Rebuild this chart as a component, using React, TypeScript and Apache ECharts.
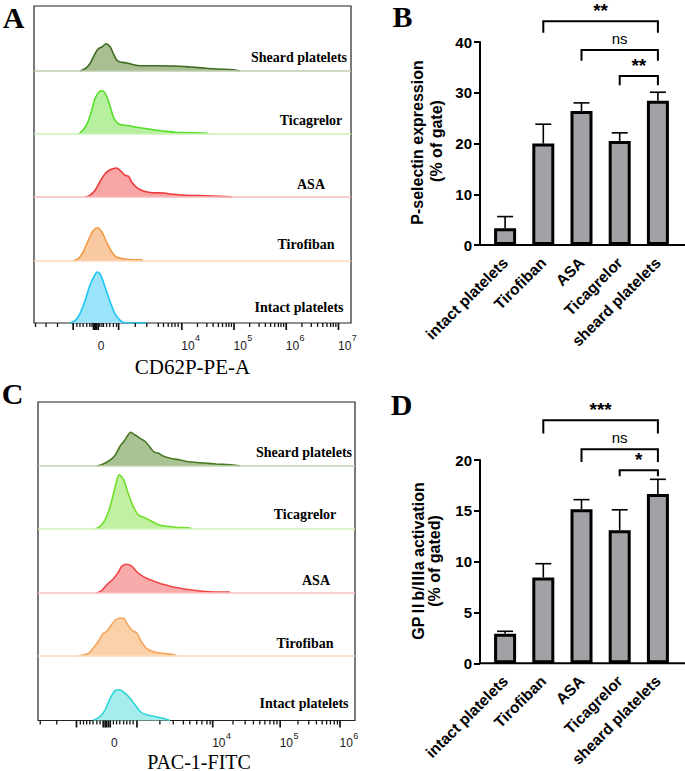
import React, { useEffect, useRef } from 'react';
import * as echarts from 'echarts';

const SANS = '"Liberation Sans", Arial, Helvetica, sans-serif';
const SANS_CJK = '"Liberation Sans", "Noto Sans CJK SC", Arial, sans-serif';
const SERIF = '"Liberation Serif", "Times New Roman", serif';

// ---------- Flow cytometry histograms (x in display decades, y in relative counts) ----------
const rowNames = ['Sheard platelets', 'Ticagrelor', 'ASA', 'Tirofiban', 'Intact platelets'];

// Panel A: CD62P-PE-A
const aSheardX = [2.05, 2.15, 2.24, 2.34, 2.40, 2.47, 2.55, 2.63, 2.69, 2.75, 2.82, 2.95, 3.07, 3.20, 3.46, 3.84, 4.16, 4.48, 4.67, 4.99, 5.12];
const aSheardY = [0, 2.3, 7.3, 17.3, 22.3, 24, 27.3, 24, 17.3, 11.3, 9, 8, 6.3, 5.3, 5.3, 5, 4, 2.7, 2, 1.3, 0];
const aTicagrelorX = [2.03, 2.11, 2.19, 2.26, 2.34, 2.42, 2.48, 2.55, 2.63, 2.70, 2.79, 2.88, 3.01, 3.14, 3.39, 3.65, 3.87, 4.10, 4.48, 4.51];
const aTicagrelorY = [0, 4, 10.7, 20.7, 35.7, 42.3, 43.3, 39, 27.3, 15.7, 10, 9, 8, 6.7, 4.7, 3, 1.7, 1.3, 0.7, 0];
const aAsaX = [2.15, 2.24, 2.34, 2.43, 2.53, 2.63, 2.75, 2.85, 2.91, 2.98, 3.04, 3.14, 3.26, 3.43, 3.65, 3.84, 4.10, 4.48, 4.73, 4.96];
const aAsaY = [0, 1.7, 6.7, 15, 23.3, 27.3, 29, 25, 21.7, 20.7, 15, 9.3, 6, 4.3, 4, 2.7, 1.7, 1.3, 0.7, 0];
const aTirofibanX = [1.92, 2.02, 2.11, 2.21, 2.31, 2.39, 2.47, 2.56, 2.66, 2.75, 2.88, 3.07, 3.23, 3.26];
const aTirofibanY = [0, 2.3, 9, 20.7, 30.7, 33.3, 29, 19, 9, 4, 2.3, 1.3, 1.3, 0];
const aIntactX = [1.86, 1.96, 2.05, 2.15, 2.24, 2.33, 2.38, 2.45, 2.53, 2.63, 2.72, 2.82, 2.91, 3.33];
const aIntactY = [0, 2.7, 9.3, 22.7, 37.7, 47.7, 51, 47.7, 36, 21, 9.3, 2.7, 0, 0];

const aMin = 1.17;
const aMax = 7.24;
const aMajorTicks = [1.92, 2.31, 2.33, 2.35, 2.37, 2.40, 2.79, 4, 5, 6, 7];
const aMinorTicks = [1.20, 1.40, 1.62, 1.99, 2.05, 2.11, 2.18, 2.24, 2.28, 2.43, 2.47, 2.50, 2.56, 2.62, 2.69, 2.75,
  3.11, 3.33, 3.55, 3.65, 3.74, 3.81, 3.87, 3.93,
  4.30, 4.48, 4.60, 4.70, 4.78, 4.85, 4.90, 4.95,
  5.30, 5.48, 5.60, 5.70, 5.78, 5.85, 5.90, 5.95,
  6.30, 6.48, 6.60, 6.70, 6.78, 6.85, 6.90, 6.95];
const aLabelPos = [2.40, 4, 5, 6, 7];
const aLabelExp = [null, 4, 5, 6, 7];

// Panel C: PAC-1-FITC
const cSheardX = [2.18, 2.28, 2.39, 2.47, 2.54, 2.62, 2.67, 2.71, 2.78, 2.86, 2.94, 3.01, 3.07, 3.15, 3.22, 3.33, 3.49, 3.62, 3.80, 4.06, 4.32, 4.43];
const cSheardY = [0, 2, 6, 11, 19.3, 26, 31, 33.7, 31, 27.7, 24.3, 19.3, 14.3, 12.7, 10, 7.7, 6, 4.3, 3.3, 2, 1, 0];
const cTicagrelorX = [2.15, 2.23, 2.31, 2.39, 2.47, 2.53, 2.60, 2.67, 2.75, 2.83, 2.94, 3.04, 3.15, 3.28, 3.41, 3.64, 3.67];
const cTicagrelorY = [0, 2.7, 9.3, 22.7, 42.7, 54.3, 49.3, 36, 22.7, 14.3, 11, 7.7, 4.3, 2.7, 1.7, 1, 0];
const cAsaX = [2.18, 2.26, 2.33, 2.44, 2.52, 2.57, 2.65, 2.73, 2.81, 2.88, 2.96, 3.07, 3.22, 3.38, 3.59, 3.80, 4.06, 4.26, 4.27];
const cAsaY = [0, 2.7, 7.7, 14.3, 21, 26.7, 28.7, 26.7, 21, 17.7, 14.7, 12, 8.7, 6, 3.7, 2, 1, 1, 0];
const cTirofibanX = [1.89, 2.05, 2.12, 2.20, 2.28, 2.33, 2.39, 2.47, 2.54, 2.60, 2.65, 2.73, 2.81, 2.88, 2.96, 3.07, 3.22, 3.41, 3.43];
const cTirofibanY = [0, 2.7, 7.7, 14.3, 22.7, 24.3, 29.3, 36, 37.7, 37.7, 32.7, 26, 22.7, 14.3, 7.7, 4.3, 2.7, 1, 0];
const cIntactX = [2.12, 2.23, 2.31, 2.39, 2.47, 2.54, 2.62, 2.70, 2.78, 2.86, 2.96, 3.09, 3.22, 3.33];
const cIntactY = [0, 4, 10.7, 22.3, 30, 30.7, 27.3, 22.3, 15.7, 9, 5.7, 4, 2.3, 0];

const cMin = 1.255;
const cMax = 6.236;
const cMajorTicks = [1.86, 2.28, 2.31, 2.33, 2.36, 2.39, 2.81, 4, 5.06, 6];
const cMinorTicks = [1.29, 1.55, 1.92, 1.97, 2.02, 2.07, 2.12, 2.18, 2.23, 2.44, 2.49, 2.54, 2.60, 2.65, 2.70, 2.75,
  3.17, 3.38, 3.54, 3.64, 3.75, 3.83, 3.91, 3.96,
  4.32, 4.51, 4.64, 4.74, 4.82, 4.90, 4.96, 5.01,
  5.34, 5.51, 5.63, 5.72, 5.79, 5.85, 5.91, 5.96];
const cLabelPos = [2.41, 4, 5.06, 6];
const cLabelExp = [null, 4, 5, 6];

const aLineColors = ['#3d6b1f', '#55de28', '#ee3a3a', '#f39a45', '#1cc6f2'];
const aFillColors = ['#a9bf92', '#b6f09e', '#f8a5a5', '#f9c9a1', '#9ae3f8'];
const aBaseColors = ['#bccdab', '#c8f3b6', '#f8baba', '#fbd8bb', '#9ae3f8'];
const cLineColors = ['#4a7a25', '#70df29', '#f04646', '#f5a65b', '#2cd5d5'];
const cFillColors = ['#a9c394', '#c1f0a2', '#f9abab', '#fad1a9', '#a5eded'];
const cBaseColors = ['#c0d3b0', '#cff4b8', '#f9c0c0', '#fbdcc0', '#a5eded'];

// ---------- Bar charts ----------
const categories = ['intact platelets', 'Tirofiban', 'ASA', 'Ticagrelor', 'sheard platelets'];
const bMean = [3.3, 20.0, 26.4, 20.5, 28.4];
const bErr = [2.3, 3.8, 1.6, 1.6, 1.7];
const dMean = [2.9, 8.45, 15.15, 13.1, 16.65];
const dErr = [0.25, 1.35, 0.95, 2.0, 1.45];

const bBrackets = [
  { from: 1, to: 4, y: 44.1, leg: 41.8, label: '**' },
  { from: 2, to: 4, y: 38.4, leg: 36.3, label: 'ns' },
  { from: 3, to: 4, y: 33.3, leg: 31.5, label: '**' },
];
const dBrackets = [
  { from: 1, to: 4, y: 23.9, leg: 22.6, label: '***' },
  { from: 2, to: 4, y: 21.05, leg: 19.8, label: 'ns' },
  { from: 3, to: 4, y: 19.0, leg: 18.4, label: '*' },
];

const ROW_H = 63;

function buildOption() {
  const grids: any[] = [];
  const xAxes: any[] = [];
  const yAxes: any[] = [];
  const series: any[] = [];

  const addHist = (
    left: number, width: number, top: number, bottom: number, baselines: number[],
    xs: number[][], ys: number[][], lines: string[], fills: string[], bases: string[],
    min: number, max: number, major: number[], minor: number[], labelPos: number[], labelExp: (number | null)[]
  ) => {
    baselines.forEach((b, i) => {
      const g = grids.length;
      grids.push({ left, width, top: b - ROW_H, height: ROW_H, outerBoundsMode: 'none' });
      xAxes.push({ type: 'value', gridIndex: g, min, max, show: false });
      yAxes.push({ type: 'value', gridIndex: g, min: 0, max: ROW_H, show: false });
      series.push({
        type: 'line',
        xAxisIndex: xAxes.length - 1,
        yAxisIndex: yAxes.length - 1,
        data: xs[i].map((x, k) => [x, ys[i][k]]),
        showSymbol: false,
        smooth: 0.3,
        lineStyle: { color: lines[i], width: 1.6 },
        areaStyle: { color: fills[i], opacity: 1 },
        markLine: i < baselines.length - 1 ? {
          silent: true,
          symbol: ['none', 'none'],
          label: { show: false },
          lineStyle: { color: bases[i], width: 1.5, type: 'solid' },
          data: [{ yAxis: 0 }],
        } : undefined,
        z: 3,
      });
    });
    const box = grids.length;
    grids.push({ left, width, top, height: bottom - top, show: true, borderColor: '#222', borderWidth: 1.2, backgroundColor: 'transparent', outerBoundsMode: 'none' });
    xAxes.push({ type: 'value', gridIndex: box, min, max, show: false });
    yAxes.push({ type: 'value', gridIndex: box, min: 0, max: 1, show: false });
    const xi = xAxes.length - 1;
    const yi = yAxes.length - 1;
    // tick marks (major = 1, minor = 0)
    series.push({
      type: 'custom', xAxisIndex: xi, yAxisIndex: yi, clip: false, silent: true, z: 5,
      data: [...major.map((v) => [v, 1]), ...minor.map((v) => [v, 0])],
      renderItem: (params: any, api: any) => {
        const p = api.coord([api.value(0), 0]);
        const isMajor = api.value(1) === 1;
        return {
          type: 'line',
          shape: { x1: p[0], y1: p[1], x2: p[0], y2: p[1] + (isMajor ? 7 : 4) },
          style: { stroke: '#111', lineWidth: isMajor ? 1.7 : 1.3 },
        };
      },
    });
    // tick labels: "0" and powers of ten
    series.push({
      type: 'custom', xAxisIndex: xi, yAxisIndex: yi, clip: false, silent: true, z: 5,
      data: labelPos.map((v, i) => [v, i]),
      renderItem: (params: any, api: any) => {
        const p = api.coord([api.value(0), 0]);
        const e = labelExp[api.value(1)];
        const base = {
          type: 'text', x: p[0] - 0.5, y: p[1] + 22.5,
          style: { text: e == null ? '0' : '10', font: `12px ${SANS}`, fill: '#1a1a1a', align: 'left', verticalAlign: 'middle' },
        };
        if (e == null) return base;
        return {
          type: 'group',
          children: [
            base,
            {
              type: 'text', x: p[0] + 13.3, y: p[1] + 15,
              style: { text: String(e), font: `9px ${SANS}`, fill: '#1a1a1a', align: 'left', verticalAlign: 'middle' },
            },
          ],
        };
      },
    });
  };

  addHist(34, 317, 6, 323, [71, 134, 197, 261, 323],
    [aSheardX, aTicagrelorX, aAsaX, aTirofibanX, aIntactX],
    [aSheardY, aTicagrelorY, aAsaY, aTirofibanY, aIntactY],
    aLineColors, aFillColors, aBaseColors, aMin, aMax, aMajorTicks, aMinorTicks, aLabelPos, aLabelExp);
  addHist(38, 317, 402, 720.5, [466, 529, 593, 656, 720.5],
    [cSheardX, cTicagrelorX, cAsaX, cTirofibanX, cIntactX],
    [cSheardY, cTicagrelorY, cAsaY, cTirofibanY, cIntactY],
    cLineColors, cFillColors, cBaseColors, cMin, cMax, cMajorTicks, cMinorTicks, cLabelPos, cLabelExp);

  const errRender = (params: any, api: any) => {
    const i = api.value(0);
    const v = api.value(1);
    const e = api.value(2);
    const p0 = api.coord([i, v]);
    const p1 = api.coord([i, v + e]);
    const st = { stroke: '#000', lineWidth: 1.6 };
    return {
      type: 'group',
      children: [
        { type: 'line', shape: { x1: p0[0], y1: p0[1], x2: p1[0], y2: p1[1] }, style: st },
        { type: 'line', shape: { x1: p1[0] - 8, y1: p1[1], x2: p1[0] + 8, y2: p1[1] }, style: st },
      ],
    };
  };
  const bracketRender = (list: { label: string }[]) => (params: any, api: any) => {
    const a = api.value(0);
    const b = api.value(1);
    const y = api.value(2);
    const leg = api.value(3);
    const pa = api.coord([a, y]);
    const pb = api.coord([b, y]);
    const la = api.coord([a, leg]);
    const lb = api.coord([b, leg]);
    const label = list[params.dataIndex].label;
    const isNs = label === 'ns';
    return {
      type: 'group',
      children: [
        { type: 'polyline', shape: { points: [la, pa, pb, lb] }, style: { stroke: '#000', lineWidth: 2, fill: null } },
        {
          type: 'text', x: (pa[0] + pb[0]) / 2, y: pa[1] - (isNs ? 4 : 1),
          style: {
            text: label, align: 'center', verticalAlign: 'bottom', fill: '#000',
            font: isNs ? `15px ${SANS}` : `bold 19px ${SANS}`,
          },
        },
      ],
    };
  };

  const addBars = (top: number, height: number, max: number, interval: number, mean: number[], err: number[], brackets: any[]) => {
    const g = grids.length;
    grids.push({ left: 486, width: 191, top, height, outerBoundsMode: 'none', containLabel: false });
    xAxes.push({
      type: 'category', gridIndex: g, data: categories,
      axisLine: { show: false }, axisTick: { show: false },
      axisLabel: { rotate: 45, interval: 0, margin: 15, fontFamily: SANS, fontWeight: 'bold', fontSize: 15.5, color: '#000' },
    });
    yAxes.push({
      type: 'value', gridIndex: g, min: 0, max, interval, offset: 6,
      axisLine: { show: true, lineStyle: { color: '#000', width: 2 } },
      axisTick: { show: true, length: 6, lineStyle: { color: '#000', width: 2 } },
      axisLabel: { fontFamily: SANS, fontWeight: 'bold', fontSize: 15, color: '#000', margin: 8 },
      splitLine: { show: false },
    });
    const xi = xAxes.length - 1;
    const yi = yAxes.length - 1;
    series.push({
      type: 'custom', xAxisIndex: xi, yAxisIndex: yi, z: 2,
      data: mean.map((v, i) => [i, v, err[i]]),
      renderItem: errRender,
    });
    series.push({
      type: 'bar', xAxisIndex: xi, yAxisIndex: yi, z: 3,
      data: mean, barWidth: 22,
      itemStyle: { color: '#a2a2a6', borderColor: '#000', borderWidth: 3 },
    });
    series.push({
      type: 'custom', xAxisIndex: xi, yAxisIndex: yi, z: 4, clip: false,
      encode: { x: [0, 1], y: [2, 3] },
      data: brackets.map((b) => [b.from, b.to, b.y, b.leg]),
      renderItem: bracketRender(brackets),
    });
  };
  addBars(42, 203, 40, 10, bMean, bErr, bBrackets);
  addBars(460, 203.3, 20, 5, dMean, dErr, dBrackets);

  const txt = (x: number, y: number, text: string, font: string, extra: any = {}) => ({
    type: 'text', x, y, ...extra,
    style: { text, font, fill: '#000', align: 'center', verticalAlign: 'middle' },
  });
  const rowLabelFont = `bold 14px ${SERIF}`;
  const aLabelXY = [[299, 57], [311, 120], [311, 184], [306, 244], [299, 307.5]];
  const cLabelXY = [[304, 452], [305, 514.5], [316, 580], [305, 643], [304, 703]];

  const graphic: any[] = [
    txt(13.5, 17, 'A', `bold 30px ${SERIF}`),
    txt(402.5, 16, 'B', `bold 30px ${SERIF}`),
    txt(12.5, 393, 'C', `bold 30px ${SERIF}`),
    txt(401.7, 404, 'D', `bold 30px ${SERIF}`),
    ...rowNames.map((n, i) => txt(aLabelXY[i][0], aLabelXY[i][1], n, rowLabelFont)),
    ...rowNames.map((n, i) => txt(cLabelXY[i][0], cLabelXY[i][1], n, rowLabelFont)),
    txt(192.5, 366.5, 'CD62P-PE-A', `21px ${SERIF}`),
    txt(199, 761.5, 'PAC-1-FITC', `20px ${SERIF}`),
    txt(417.5, 142.5, 'P-selectin expression', `bold 16px ${SANS}`, { rotation: Math.PI / 2 }),
    txt(436, 141, '(% of gate)', `bold 16px ${SANS}`, { rotation: Math.PI / 2 }),
    txt(418, 561, 'GPⅡb/Ⅲa activation', `bold 16px ${SANS_CJK}`, { rotation: Math.PI / 2 }),
    txt(434.5, 561, '(% of gated)', `bold 16px ${SANS}`, { rotation: Math.PI / 2 }),
    { type: 'line', shape: { x1: 479, y1: 245, x2: 685, y2: 245 }, style: { stroke: '#000', lineWidth: 2 } },
    { type: 'line', shape: { x1: 479, y1: 663.3, x2: 685, y2: 663.3 }, style: { stroke: '#000', lineWidth: 2 } },
  ];

  return {
    animation: false,
    backgroundColor: '#fff',
    grid: grids,
    xAxis: xAxes,
    yAxis: yAxes,
    series,
    graphic,
  };
}

export default function App() {
  const ref = useRef<HTMLDivElement>(null);
  useEffect(() => {
    if (!ref.current) return;
    const chart = echarts.init(ref.current, undefined, { renderer: 'svg' });
    chart.setOption(buildOption() as any);
    return () => chart.dispose();
  }, []);
  return (
    <div
      ref={ref}
      style={{ position: 'fixed', left: 0, top: 0, width: 685, height: 771, background: '#fff' }}
    />
  );
}
